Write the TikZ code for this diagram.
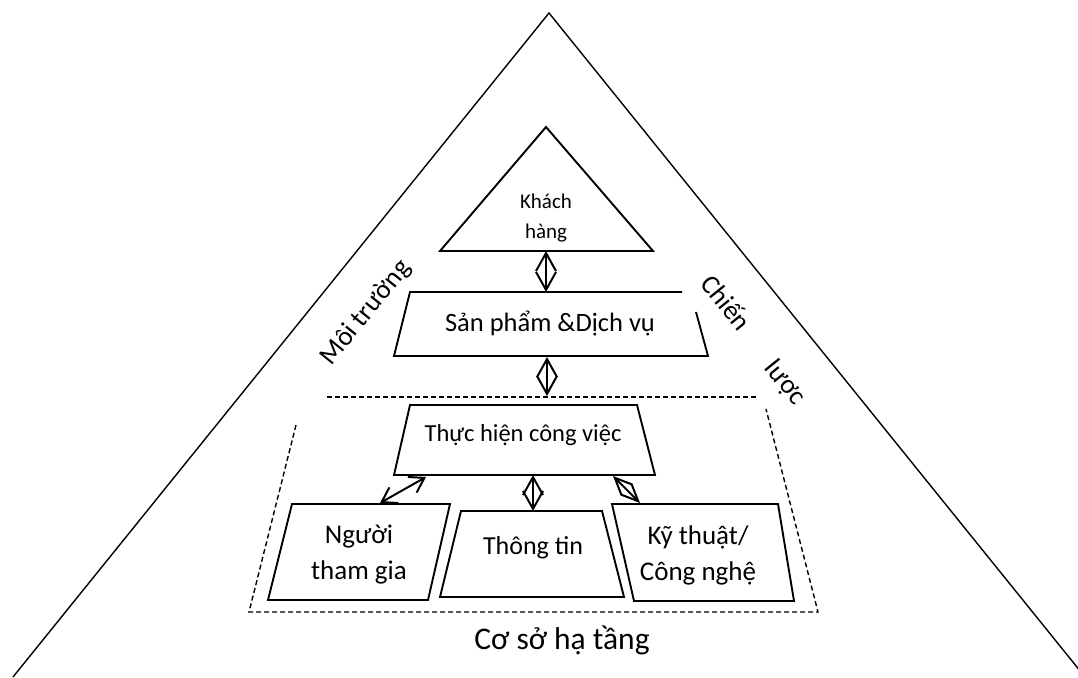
\documentclass[tikz,border=0pt]{standalone}
\usepackage{fontspec}
\setmainfont{Carlito}
\usetikzlibrary{arrows.meta}
\begin{document}
\begin{tikzpicture}[x=1pt,y=-1pt,
  outline/.style={line width=1.4pt},
  box/.style={line width=1.9pt, line join=miter},
  fence/.style={line width=1.4pt, dash pattern=on 5pt off 3pt},
  lozenge/.style={line width=2pt,
    {Straight Barb[length=18pt,width=20pt]}-{Straight Barb[length=18pt,width=20pt]}},
  slimlozenge/.style={line width=2pt,
    {Straight Barb[length=17pt,width=15pt]}-{Straight Barb[length=17pt,width=15pt]}},
  dblarrow/.style={line width=2pt,
    {Straight Barb[length=14pt,width=18pt]}-{Straight Barb[length=14pt,width=18pt]}},
  lbl/.style={inner sep=0pt, align=center},
]
\clip (0,0) rectangle (1078,677);

% outer pyramid
\coordinate (apex) at (549,13);
\coordinate (baseL) at (13,677);
\coordinate (baseR) at (1085,677);
\draw[outline] (baseL) -- (apex) -- (baseR);

% customer triangle
\coordinate (kTop) at (546,127);
\coordinate (kL) at (440,251);
\coordinate (kR) at (653,251);
\draw[box] (kTop) -- (kR) -- (kL) -- cycle;
\node[lbl, font=\fontsize{21}{30}\selectfont] (khach) at (546,218) {Khách\\hàng};

% products and services (top-right corner left open under the side label)
\coordinate (spTL) at (410,292);
\coordinate (spTRa) at (682,292);
\coordinate (spTRb) at (696,312);
\coordinate (spBR) at (708,356);
\coordinate (spBL) at (394,356);
\draw[box] (spTRa) -- (spTL) -- (spBL) -- (spBR) -- (spTRb);
\node[lbl, font=\fontsize{26.5}{32}\selectfont] (sanpham) at (550,323) {Sản phẩm \&Dịch vụ};

% dashed infrastructure frame
\coordinate (fTopL) at (327,397);
\coordinate (fTopR) at (757,397);
\coordinate (fLtop) at (296,425);
\coordinate (fBL) at (249,612);
\coordinate (fBR) at (818,612);
\coordinate (fRtop) at (766,409);
\draw[fence] (fTopL) -- (fTopR);
\draw[fence] (fLtop) -- (fBL) -- (fBR) -- (fRtop);

% work execution
\coordinate (thTL) at (410,405);
\coordinate (thTR) at (637,405);
\coordinate (thBR) at (655,475);
\coordinate (thBL) at (394,475);
\draw[box] (thTL) -- (thTR) -- (thBR) -- (thBL) -- cycle;
\node[lbl, font=\fontsize{24.5}{30}\selectfont] (thuchien) at (523,435) {Thực hiện công việc};

% participants
\coordinate (ngTL) at (292,504);
\coordinate (ngTR) at (450,504);
\coordinate (ngBR) at (428,600);
\coordinate (ngBL) at (268,600);
\draw[box] (ngTL) -- (ngTR) -- (ngBR) -- (ngBL) -- cycle;
\node[lbl, font=\fontsize{27}{36}\selectfont] (nguoi) at (359,555) {Người\\tham gia};

% information
\coordinate (ttTL) at (461,511);
\coordinate (ttTR) at (602,511);
\coordinate (ttBR) at (624,597);
\coordinate (ttBL) at (440,597);
\draw[box] (ttTL) -- (ttTR) -- (ttBR) -- (ttBL) -- cycle;
\node[lbl, font=\fontsize{26}{32}\selectfont] (thongtin) at (533,548) {Thông tin};

% technology
\coordinate (ktTL) at (612,504);
\coordinate (ktTR) at (778,504);
\coordinate (ktBR) at (794,601);
\coordinate (ktBL) at (634,601);
\draw[box] (ktTL) -- (ktTR) -- (ktBR) -- (ktBL) -- cycle;
\node[lbl, font=\fontsize{27}{36}\selectfont] (kythuat) at (698,555) {Kỹ thuật/\\Công nghệ};

% side labels
\node[lbl, font=\fontsize{31.5}{36}\selectfont] (coso) at (562,640) {Cơ sở hạ tầng};
\node[lbl, rotate=51, font=\fontsize{27}{32}\selectfont] (moitruong) at (366,313) {Môi trường};
\node[lbl, rotate=-51, font=\fontsize{27}{32}\selectfont] (chien) at (727,302) {Chiến};
\node[lbl, rotate=-51, font=\fontsize{27}{32}\selectfont] (luoc) at (785,383) {lược};

% connectors
\coordinate (a1s) at (546,251);
\coordinate (a1e) at (546,292);
\draw[lozenge] (a1s) -- (a1e);
\coordinate (a2s) at (547,357);
\coordinate (a2e) at (547,396);
\draw[lozenge] (a2s) -- (a2e);
\coordinate (a3s) at (533,475);
\coordinate (a3e) at (533,511);
\draw[lozenge] (a3s) -- (a3e);
\coordinate (a4s) at (380,503);
\coordinate (a4e) at (426,477);
\draw[dblarrow] (a4s) -- (a4e);
\coordinate (a5s) at (613,476);
\coordinate (a5e) at (640,503);
\draw[slimlozenge] (a5s) -- (a5e);
\end{tikzpicture}
\end{document}
